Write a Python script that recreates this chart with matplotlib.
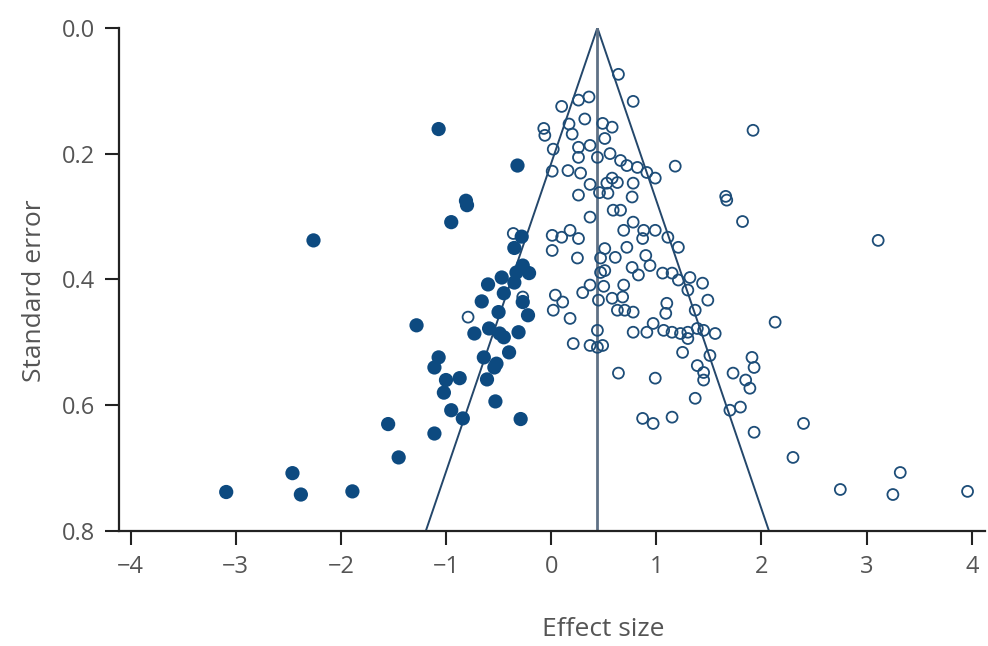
import matplotlib
matplotlib.use("Agg")
import matplotlib.pyplot as plt
import numpy as np

# pooled effect and funnel width
pooled = 0.44
z_limit = 2.04

# studies with a significant negative / small effect (filled markers)
filled_x = [-1.07, -0.32, -0.81, -0.80, -0.95, -2.26, -0.28, -0.35, -0.27, -0.21,
            -0.33, -0.47, -0.60, -0.35, -0.45, -0.66, -0.27, -0.50, -0.22, -0.73,
            -0.59, -0.49, -0.45, -0.31, -0.40, -0.64, -0.52, -1.07, -1.11, -1.28,
            -1.00, -0.87, -1.02, -0.95, -0.84, -1.11, -0.61, -0.53, -0.29, -1.55,
            -1.45, -2.46, -2.38, -3.09, -1.89, -0.54]
filled_se = [0.161, 0.219, 0.275, 0.282, 0.309, 0.338, 0.332, 0.350, 0.378, 0.390,
             0.389, 0.397, 0.408, 0.405, 0.422, 0.435, 0.436, 0.452, 0.457, 0.486,
             0.478, 0.486, 0.492, 0.484, 0.516, 0.524, 0.534, 0.524, 0.540, 0.473,
             0.560, 0.557, 0.580, 0.608, 0.621, 0.645, 0.559, 0.594, 0.622, 0.630,
             0.683, 0.708, 0.742, 0.738, 0.737, 0.540]

# remaining studies (open markers)
open_x = [0.64, 0.78, 0.10, 0.26, 0.36, -0.07, -0.06, 0.17, 0.32, 0.49,
          0.58, 0.51, 0.20, 0.02, 0.26, 0.37, 0.44, 0.56, 0.66, 0.72,
          0.82, 0.91, 0.99, 0.01, 0.16, 0.28, 0.26, 0.53, 0.63, 0.78,
          0.26, 0.54, 0.77, 0.59, 0.66, 0.37, 0.78, 0.88, 0.99, 0.69,
          1.18, 1.92, 1.66, 1.67, 1.82, 3.11, -0.36, 0.01, 0.10, 0.18,
          0.26, 0.01, 0.25, 0.51, 0.61, 0.72, 0.87, 1.11, 1.21, 0.90,
          0.94, 0.77, 0.51, 0.83, 1.06, 1.15, 1.32, 1.21, 1.44, 0.69,
          1.30, 0.58, 0.68, 1.49, 1.10, 0.37, 0.30, 0.04, 0.11, 0.02,
          0.18, -0.27, 0.63, 0.70, 0.78, 1.37, 1.09, 0.97, 1.07, 0.91,
          0.78, 1.15, 1.23, 1.30, 1.39, 1.45, 1.56, 1.30, 2.13, -0.79,
          0.44, 0.21, 0.37, 0.44, 0.49, 1.25, 1.51, 1.39, 1.45, 1.45,
          1.37, 0.64, 0.99, 0.87, 0.97, 1.15, 1.91, 1.93, 1.73, 1.85,
          1.89, 1.80, 1.70, 1.93, 2.40, 2.30, 2.75, 3.25, 3.32, 3.96,
          0.47, 0.47, 0.50, 0.45, 0.37, 0.46, 0.58]
open_se = [0.074, 0.117, 0.125, 0.115, 0.110, 0.160, 0.171, 0.153, 0.145, 0.152,
           0.158, 0.176, 0.169, 0.193, 0.190, 0.187, 0.206, 0.200, 0.211, 0.219,
           0.222, 0.230, 0.239, 0.228, 0.227, 0.231, 0.206, 0.247, 0.246, 0.247,
           0.266, 0.263, 0.269, 0.290, 0.290, 0.301, 0.309, 0.322, 0.322, 0.322,
           0.220, 0.163, 0.268, 0.274, 0.308, 0.338, 0.327, 0.330, 0.333, 0.322,
           0.335, 0.354, 0.366, 0.351, 0.365, 0.349, 0.335, 0.333, 0.349, 0.362,
           0.378, 0.381, 0.386, 0.393, 0.390, 0.390, 0.397, 0.401, 0.406, 0.409,
           0.417, 0.430, 0.428, 0.433, 0.438, 0.409, 0.421, 0.425, 0.436, 0.449,
           0.462, 0.428, 0.449, 0.449, 0.452, 0.449, 0.454, 0.470, 0.481, 0.484,
           0.484, 0.484, 0.486, 0.484, 0.478, 0.481, 0.486, 0.494, 0.468, 0.460,
           0.481, 0.502, 0.505, 0.508, 0.505, 0.516, 0.521, 0.537, 0.548, 0.560,
           0.589, 0.549, 0.557, 0.621, 0.629, 0.619, 0.524, 0.540, 0.549, 0.560,
           0.573, 0.603, 0.608, 0.643, 0.629, 0.683, 0.734, 0.742, 0.707, 0.737,
           0.366, 0.389, 0.411, 0.433, 0.249, 0.262, 0.239]

x_ticks = [-4, -3, -2, -1, 0, 1, 2, 3, 4]
y_ticks = [0.0, 0.2, 0.4, 0.6, 0.8]

blue = "#0d4a80"
grey_text = "#555555"

plt.rcParams['font.family'] = ['Open Sans', 'DejaVu Sans']

fig = plt.figure(figsize=(9.88, 6.46), dpi=100)
ax = fig.add_axes([0.1204, 0.178, 0.877, 0.779])

# funnel (pseudo confidence limits around the pooled effect)
se_line = np.array([0.0, 0.8])
ax.plot(pooled - z_limit * se_line, se_line, color="#24476b", lw=1.4, zorder=1)
ax.plot(pooled + z_limit * se_line, se_line, color="#24476b", lw=1.4, zorder=1)
ax.plot([pooled, pooled], [0.0, 0.8], color="#5f7185", lw=2.0, zorder=1)

ax.scatter(open_x, open_se, s=62, facecolors="none", edgecolors="#1d4d78",
           linewidths=1.3, zorder=2)
ax.scatter(filled_x, filled_se, s=105, color=blue, edgecolors="none", zorder=3)

ax.set_xlim(-4.11, 4.13)
ax.set_ylim(0.8, 0.0)
ax.set_xticks(x_ticks)
ax.set_xticklabels(["\u2212%d" % abs(t) if t < 0 else str(t) for t in x_ticks])
ax.set_yticks(y_ticks)
ax.set_yticklabels(["%.1f" % t for t in y_ticks])

for side in ["top", "right"]:
    ax.spines[side].set_visible(False)
for side in ["left", "bottom"]:
    ax.spines[side].set_linewidth(1.6)
    ax.spines[side].set_color("#222222")

ax.tick_params(axis="both", length=10, width=1.5, color="#222222",
               labelsize=17, labelcolor=grey_text, pad=7)

ax.set_xlabel("Effect size", fontsize=19, color=grey_text)
ax.xaxis.set_label_coords(0.559, -0.17)
ax.set_ylabel("Standard error", fontsize=19, color=grey_text)
ax.yaxis.set_label_coords(-0.083, 0.478)

fig.savefig("out.png", dpi=100)
